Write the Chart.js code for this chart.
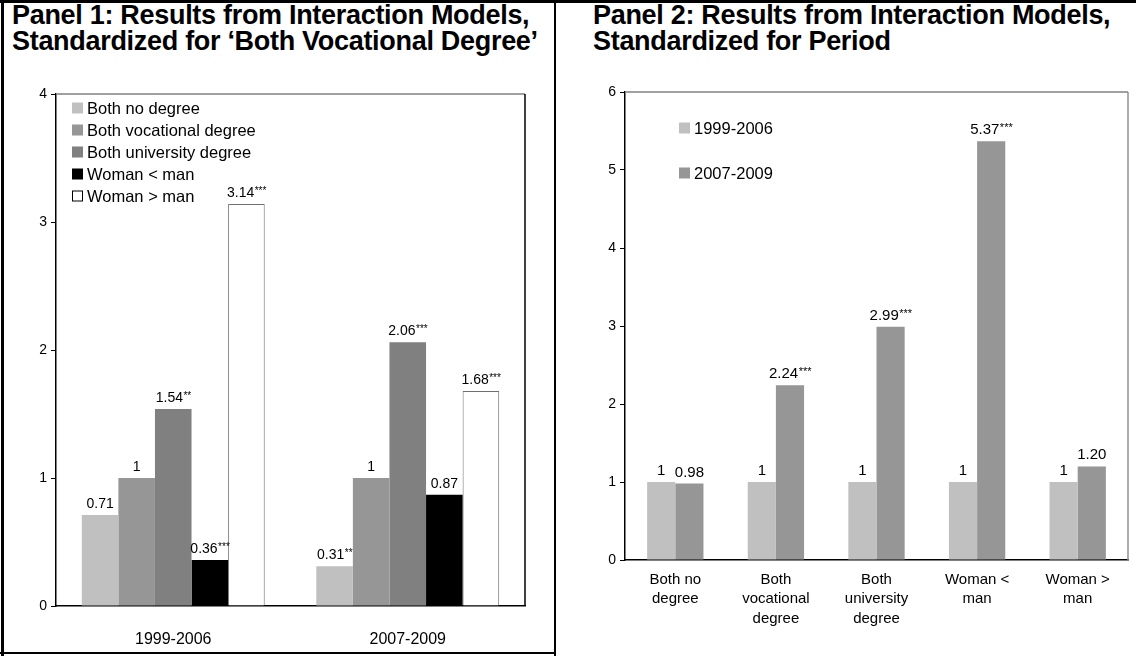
<!DOCTYPE html>
<html>
<head>
<meta charset="utf-8">
<script src="https://cdn.jsdelivr.net/npm/chart.js@4.4.0/dist/chart.umd.min.js"></script>
<style>
body { margin: 0; background: #fff; font-family: "Liberation Sans", Arial, sans-serif; }
#wrap { position: relative; width: 1136px; height: 656px; overflow: hidden; }
.title { position: absolute; font-weight: bold; font-size: 27px; line-height: 26px; color: #000; white-space: nowrap; letter-spacing: -0.3px; }
.line { position: absolute; background: #000; }
.box { position: absolute; }
</style>
</head>
<body>
<div id="wrap">
  <div class="line" style="left:0;top:0;width:1136px;height:3px"></div>
  <div class="line" style="left:1px;top:0;width:3px;height:656px"></div>
  <div class="line" style="left:554px;top:0;width:2px;height:656px"></div>
  <div class="line" style="left:0;top:652px;width:556px;height:2px"></div>
  <div class="title" style="left:12px;top:2px">Panel 1: Results from Interaction Models,<br>Standardized for ‘Both Vocational Degree’</div>
  <div class="title" style="left:593px;top:2px">Panel 2: Results from Interaction Models,<br>Standardized for Period</div>
  <div class="box" style="left:4px;top:60px;width:550px;height:590px"><canvas id="c1"></canvas></div>
  <div class="box" style="left:556px;top:60px;width:580px;height:596px"><canvas id="c2"></canvas></div>
</div>
<script>
// panel 1
const periods = ['1999-2006', '2007-2009'];
const bothNoDegree = [0.71, 0.31];
const bothVocational = [1, 1];
const bothUniversity = [1.54, 2.06];
const womanLess = [0.36, 0.87];
const womanMore = [3.14, 1.68];
const starsNoDegree = ['', '**'];
const starsVocational = ['', ''];
const starsUniversity = ['**', '***'];
const starsWomanLess = ['***', ''];
const starsWomanMore = ['***', '***'];

// panel 2
const groups = [['Both no', 'degree'], ['Both', 'vocational', 'degree'], ['Both', 'university', 'degree'], ['Woman <', 'man'], ['Woman >', 'man']];
const period1999 = [1, 1, 1, 1, 1];
const period2007 = [0.98, 2.24, 2.99, 5.37, 1.20];
const stars1999 = ['', '', '', '', ''];
const stars2007 = ['', '***', '***', '***', ''];

const FONT = '"Liberation Sans", Arial, sans-serif';

function fmt(v) {
  return v === 1 ? '1' : v.toFixed(2);
}

// value labels with small raised stars
const valueLabels = {
  id: 'valueLabels',
  afterDatasetsDraw(chart, args, opts) {
    const ctx = chart.ctx;
    ctx.save();
    ctx.fillStyle = '#000';
    ctx.textBaseline = 'alphabetic';
    ctx.textAlign = 'left';
    chart.data.datasets.forEach((ds, i) => {
      const meta = chart.getDatasetMeta(i);
      meta.data.forEach((bar, j) => {
        const txt = fmt(ds.data[j]);
        const st = ds.stars[j];
        ctx.font = opts.size + 'px ' + FONT;
        const w1 = ctx.measureText(txt).width;
        ctx.font = (opts.size - 4) + 'px ' + FONT;
        const w2 = st ? ctx.measureText(st).width : 0;
        const x0 = bar.x - (w1 + w2) / 2;
        const yb = bar.y - opts.gap;
        ctx.font = opts.size + 'px ' + FONT;
        ctx.fillText(txt, x0, yb);
        if (st) {
          ctx.font = (opts.size - 4) + 'px ' + FONT;
          ctx.fillText(st, x0 + w1 + 0.5, yb - 3);
        }
      });
    });
    ctx.restore();
  }
};

// top and right edge of the plot area
const plotEdge = {
  id: 'plotEdge',
  afterDraw(chart, args, opts) {
    const a = chart.chartArea;
    const ctx = chart.ctx;
    ctx.save();
    ctx.lineWidth = 1.5;
    ctx.strokeStyle = '#808080';
    ctx.beginPath();
    ctx.moveTo(a.left, a.top);
    ctx.lineTo(a.right, a.top);
    ctx.stroke();
    ctx.strokeStyle = opts.right;
    ctx.beginPath();
    ctx.moveTo(a.right, a.top);
    ctx.lineTo(a.right, a.bottom);
    ctx.stroke();
    ctx.restore();
  }
};

// legend drawn inside the plot
const innerLegend = {
  id: 'innerLegend',
  afterDraw(chart, args, opts) {
    const a = chart.chartArea;
    const ctx = chart.ctx;
    ctx.save();
    ctx.font = opts.size + 'px ' + FONT;
    ctx.textBaseline = 'middle';
    chart.data.datasets.forEach((ds, i) => {
      const x = a.left + opts.dx;
      const y = a.top + opts.dy + i * opts.step;
      ctx.fillStyle = ds.backgroundColor;
      ctx.fillRect(x, y - 5.5, 11, 11);
      if (ds.backgroundColor === '#ffffff') {
        ctx.strokeStyle = '#000';
        ctx.lineWidth = 1;
        ctx.strokeRect(x + 0.5, y - 5, 10, 10);
      }
      ctx.fillStyle = '#000';
      ctx.fillText(ds.label, x + 15, y + 1);
    });
    ctx.restore();
  }
};

function yAxis(max, width, size) {
  return {
    min: 0, max: max,
    ticks: { stepSize: 1, color: '#000', font: { family: FONT, size: size }, padding: 4 },
    grid: { drawOnChartArea: false, drawTicks: true, tickLength: 5, color: '#000' },
    border: { color: '#000', width: 1.5 },
    afterFit(s) { s.width = width; }
  };
}

new Chart(document.getElementById('c1'), {
  type: 'bar',
  data: {
    labels: periods,
    datasets: [
      { label: 'Both no degree', data: bothNoDegree, stars: starsNoDegree, backgroundColor: '#c0c0c0' },
      { label: 'Both vocational degree', data: bothVocational, stars: starsVocational, backgroundColor: '#969696' },
      { label: 'Both university degree', data: bothUniversity, stars: starsUniversity, backgroundColor: '#808080' },
      { label: 'Woman < man', data: womanLess, stars: starsWomanLess, backgroundColor: '#000000' },
      { label: 'Woman > man', data: womanMore, stars: starsWomanMore, backgroundColor: '#ffffff', borderColor: '#707070', borderWidth: 1 }
    ]
  },
  options: {
    responsive: true,
    maintainAspectRatio: false,
    animation: false,
    layout: { padding: { left: 0, right: 29, top: 34, bottom: 0 } },
    datasets: { bar: { categoryPercentage: 0.78, barPercentage: 1 } },
    plugins: {
      legend: { display: false },
      tooltip: { enabled: false },
      valueLabels: { size: 14, gap: 7 },
      plotEdge: { right: '#000' },
      innerLegend: { size: 16.5, dx: 16, dy: 14, step: 22 }
    },
    scales: {
      x: {
        ticks: { color: '#000', font: { family: FONT, size: 16 }, padding: 16 },
        grid: { display: false },
        border: { color: '#000', width: 1.5 },
        afterFit(s) { s.height = 44; }
      },
      y: yAxis(4, 52, 14)
    }
  },
  plugins: [valueLabels, plotEdge, innerLegend]
});

new Chart(document.getElementById('c2'), {
  type: 'bar',
  data: {
    labels: groups,
    datasets: [
      { label: '1999-2006', data: period1999, stars: stars1999, backgroundColor: '#c0c0c0' },
      { label: '2007-2009', data: period2007, stars: stars2007, backgroundColor: '#969696' }
    ]
  },
  options: {
    responsive: true,
    maintainAspectRatio: false,
    animation: false,
    layout: { padding: { left: 0, right: 8, top: 32, bottom: 0 } },
    datasets: { bar: { categoryPercentage: 0.56, barPercentage: 1 } },
    plugins: {
      legend: { display: false },
      tooltip: { enabled: false },
      valueLabels: { size: 15, gap: 7 },
      plotEdge: { right: '#909090' },
      innerLegend: { size: 16.5, dx: 54, dy: 36, step: 45 }
    },
    scales: {
      x: {
        ticks: { color: '#000', font: { family: FONT, size: 15, lineHeight: 1.3 }, padding: 2 },
        grid: { display: false },
        border: { color: '#000', width: 1.5 },
        afterFit(s) { s.height = 96; }
      },
      y: yAxis(6, 69, 14)
    }
  },
  plugins: [valueLabels, plotEdge, innerLegend]
});
</script>
</body>
</html>
